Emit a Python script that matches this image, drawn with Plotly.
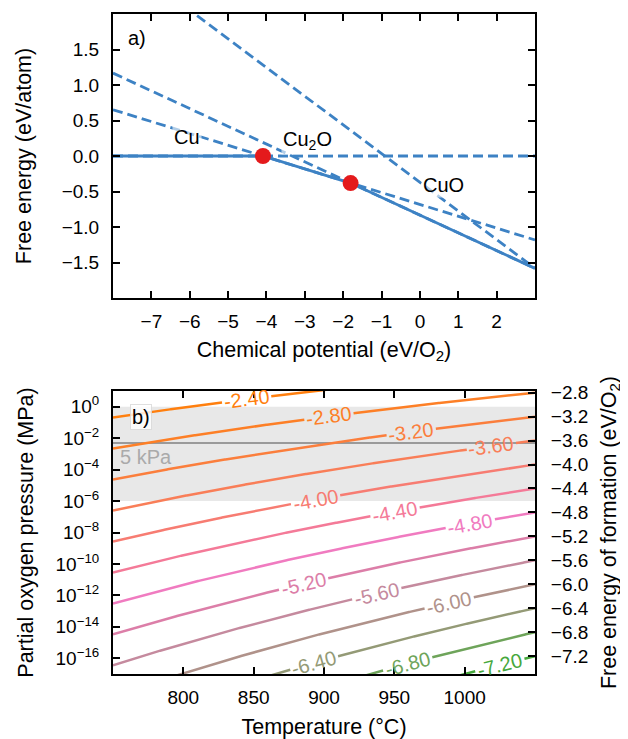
import math
import numpy as np
import plotly.graph_objects as go

FONT = "Liberation Sans, Arial, Helvetica, sans-serif"
BLUE = "#3d82c4"
RED = "#e41a1c"

# ---------------- panel a) : free energy vs chemical potential ----------------
mu_limits = [-8.0, 3.0]
G_limits = [-2.0, 2.0]
phase_names = ["Cu", "Cu2O", "CuO", "Cu2O3"]
phase_slopes = [0.0, -0.1667, -0.25, -0.404]        # eV/atom per eV/O2
phase_G_at_mu0 = [0.0, -0.682, -0.8325, -0.37]     # eV/atom at mu = 0
stable_phases = [0, 1, 2]
label_texts = ["Cu", "Cu<sub>2</sub>O", "CuO"]
label_mu = [-6.06, -2.93, 0.62]
label_G = [0.265, 0.22, -0.41]
a_xticks = [-7, -6, -5, -4, -3, -2, -1, 0, 1, 2]
a_yticks = [-1.5, -1.0, -0.5, 0.0, 0.5, 1.0, 1.5]

# ---------------- panel b) : oxygen partial pressure map ----------------
T_limits = [750, 1050]                 # deg C
logp_limits = [-17, 1]                 # log10(p / MPa)
contour_levels = [-7.2, -6.8, -6.4, -6.0, -5.6, -5.2, -4.8, -4.4, -4.0, -3.6, -3.2, -2.8, -2.4]
contour_colors = ["#46a83c", "#6ea45a", "#949a76", "#b0928a", "#c58a9e", "#dc7ea8",
                  "#f07bc0", "#f47a98", "#f77c72", "#f97e58", "#fb7e3c", "#fd7f26", "#ff7f0e"]
contour_label_T = [1025, 959.5, 893, 989, 937.5, 885.5, 1004, 950.5, 894, 1019, 962, 903.5, 845]
dH_O2 = 0.383          # eV/O2  (G0 = dH + dS*T)
dS_O2 = -0.002583      # eV/(O2 K)
band_p = [1e-6, 1.0]   # MPa
marker_p = 0.005       # MPa (5 kPa)
b_xticks = [800, 850, 900, 950, 1000]
b_yticks_exp = [-16, -14, -12, -10, -8, -6, -4, -2, 0]
right_ticks = [-2.8, -3.2, -3.6, -4.0, -4.4, -4.8, -5.2, -5.6, -6.0, -6.4, -6.8, -7.2]
T_right_ref = 1050

KB = 8.617333e-5
LN10 = math.log(10)


def G_form(TC, logp):
    TK = np.asarray(TC) + 273.15
    return dH_O2 + dS_O2 * TK + KB * TK * LN10 * logp


def logp_of(level, TC):
    TK = np.asarray(TC) + 273.15
    return (level - dH_O2 - dS_O2 * TK) / (KB * TK * LN10)


def minus(s):
    return s.replace("-", "\u2212")


# ---------------- layout geometry (page has an 8 px body margin) ----------------
OFF = 8
W, H = 628 - OFF, 739 - OFF
BOX_L, BOX_R = 113 - OFF, 535 - OFF
A_TOP, A_BOT = 14 - OFF, 298 - OFF
B_TOP, B_BOT = 391 - OFF, 674 - OFF
ML, MR, MT, MB = BOX_L, W - BOX_R, A_TOP, H - B_BOT
plot_w = W - ML - MR
plot_h = H - MT - MB
top_dom = [1 - (A_BOT - MT) / plot_h, 1.0]
bot_dom = [0.0, 1 - (B_TOP - MT) / plot_h]

fig = go.Figure()

# ---- panel a traces ----
mu_arr = np.array(mu_limits)
for i in range(len(phase_names)):
    fig.add_trace(go.Scatter(
        x=mu_arr, y=phase_slopes[i] * mu_arr + phase_G_at_mu0[i],
        mode="lines", line=dict(color=BLUE, width=2.8, dash="10px,5px"),
        hoverinfo="skip", xaxis="x", yaxis="y"))

bps = []
for a, b in zip(stable_phases[:-1], stable_phases[1:]):
    bps.append((phase_G_at_mu0[b] - phase_G_at_mu0[a]) / (phase_slopes[a] - phase_slopes[b]))
env_mu = np.array([mu_limits[0]] + bps + [mu_limits[1]])
env_G = np.min([phase_slopes[i] * env_mu + phase_G_at_mu0[i] for i in stable_phases], axis=0)
fig.add_trace(go.Scatter(x=env_mu, y=env_G, mode="lines",
                         line=dict(color=BLUE, width=2.8), hoverinfo="skip",
                         xaxis="x", yaxis="y"))
bp_arr = np.array(bps)
bp_G = np.min([phase_slopes[i] * bp_arr + phase_G_at_mu0[i] for i in stable_phases], axis=0)
fig.add_trace(go.Scatter(x=bp_arr, y=bp_G, mode="markers",
                         marker=dict(color=RED, size=16), hoverinfo="skip",
                         xaxis="x", yaxis="y"))

# ---- panel b traces: iso-lines of the formation free energy, broken at their labels ----
px_per_K = plot_w / (T_limits[1] - T_limits[0])
px_per_dec = (bot_dom[1] - bot_dom[0]) * plot_h / (logp_limits[1] - logp_limits[0])
LABEL_SIZE = 20
T_line = np.linspace(T_limits[0], T_limits[1], 601)
label_info = []
for lv, col, TC in zip(contour_levels, contour_colors, contour_label_T):
    L = logp_of(lv, T_line)
    Lc = float(logp_of(lv, TC))
    text = f"{lv:.2f}"
    half_gap = 0.5 * 0.456 * len(text) * LABEL_SIZE + 2
    d = np.hypot((T_line - TC) * px_per_K, (L - Lc) * px_per_dec)
    y = np.where(d < half_gap, np.nan, L)
    fig.add_trace(go.Scatter(x=T_line, y=y, mode="lines", connectgaps=False,
                             line=dict(color=col, width=2.5), hoverinfo="skip",
                             xaxis="x2", yaxis="y2"))
    TK = TC + 273.15
    dLdT = -(lv - dH_O2) / (KB * LN10 * TK ** 2)
    ang = -math.degrees(math.atan(dLdT * px_per_dec / px_per_K))
    label_info.append((text, TC, Lc, ang, col))

# right-hand axis (free energy at the reference temperature)
right_range = [float(G_form(T_right_ref, logp_limits[0])), float(G_form(T_right_ref, logp_limits[1]))]
fig.add_trace(go.Scatter(x=[T_right_ref] * len(right_ticks), y=right_ticks, mode="markers",
                         marker=dict(opacity=0), hoverinfo="skip", xaxis="x2", yaxis="y3"))

# ---------------- axes ----------------
tick_font = dict(family=FONT, size=19, color="black")
title_font = dict(family=FONT, size=21.5, color="black")
common = dict(ticks="inside", ticklen=7, tickwidth=1.5, tickcolor="black",
              showline=True, linewidth=2, linecolor="black", showgrid=False,
              zeroline=False, tickfont=tick_font, automargin=False)

fig.update_layout(
    width=W, height=H, margin=dict(l=ML, r=MR, t=MT, b=MB),
    plot_bgcolor="white", paper_bgcolor="white", showlegend=False,
    font=dict(family=FONT, size=19, color="black"),
    xaxis=dict(domain=[0, 1], anchor="y", range=mu_limits, tickvals=a_xticks,
               ticktext=[minus(str(v)) for v in a_xticks], mirror="ticks",
               ticklabelstandoff=5,
               title=dict(text="Chemical potential (eV/O<sub>2</sub>)", font=title_font, standoff=11),
               **common),
    yaxis=dict(domain=top_dom, anchor="x", range=G_limits, tickvals=a_yticks,
               ticktext=[minus(f"{v:.1f}") for v in a_yticks], mirror="ticks",
               ticklabelstandoff=8,
               title=dict(text="Free energy (eV/atom)", font=title_font, standoff=24),
               **common),
    xaxis2=dict(domain=[0, 1], anchor="y2", range=T_limits, tickvals=b_xticks,
                ticktext=[str(v) for v in b_xticks], mirror="ticks",
                ticklabelstandoff=5,
                title=dict(text="Temperature (°C)", font=title_font, standoff=12),
                **common),
    yaxis2=dict(domain=bot_dom, anchor="x2", range=logp_limits, tickvals=b_yticks_exp,
                ticktext=[minus(f"10<sup>{e}</sup>") for e in b_yticks_exp], mirror=True,
                ticklabelstandoff=8,
                title=dict(text="Partial oxygen pressure (MPa)", font=title_font, standoff=16),
                **common),
    yaxis3=dict(overlaying="y2", side="right", anchor="x2", range=right_range,
                tickvals=right_ticks, ticktext=[minus(f"{v:.1f}") for v in right_ticks],
                ticklabelstandoff=10,
                title=dict(text="Free energy of formation (eV/O<sub>2</sub>)", font=title_font, standoff=13),
                **common),
)

# ---------------- shapes ----------------
fig.add_shape(type="rect", xref="x2 domain", yref="y2", x0=0, x1=1,
              y0=math.log10(band_p[0]), y1=math.log10(band_p[1]),
              fillcolor="#e8e8e8", line=dict(width=0), layer="below")
fig.add_shape(type="line", xref="x2 domain", yref="y2", x0=0, x1=1,
              y0=math.log10(marker_p), y1=math.log10(marker_p),
              line=dict(color="#9a9a9a", width=2), layer="below")

# ---------------- annotations ----------------
ann = []
for t, m, g in zip(label_texts, label_mu, label_G):
    ann.append(dict(text=t, x=m, y=g, xref="x", yref="y", showarrow=False,
                    xanchor="center", yanchor="middle",
                    font=dict(family=FONT, size=20, color="black"),
                    bgcolor="rgba(255,255,255,0.6)", borderpad=1))
top_h = (top_dom[1] - top_dom[0]) * plot_h
bot_h = (bot_dom[1] - bot_dom[0]) * plot_h
ann.append(dict(text="a)", x=(137 - OFF - BOX_L) / plot_w, y=1 - (38 - OFF - A_TOP) / top_h,
                xref="x domain", yref="y domain", showarrow=False,
                xanchor="center", yanchor="middle",
                font=dict(family=FONT, size=20, color="black")))
ann.append(dict(text="b)", x=(140.5 - OFF - BOX_L) / plot_w, y=1 - (416.7 - OFF - B_TOP) / bot_h,
                xref="x2 domain", yref="y2 domain", showarrow=False,
                xanchor="center", yanchor="middle",
                font=dict(family=FONT, size=20, color="black"),
                bgcolor="rgba(255,255,255,0.8)", bordercolor="rgba(215,215,215,0.8)",
                borderwidth=1, borderpad=1))
ann.append(dict(text="5 kPa", x=T_limits[0] + 3.5, y=math.log10(marker_p), xref="x2", yref="y2",
                xanchor="left", yanchor="top", yshift=-1, showarrow=False,
                font=dict(family=FONT, size=20, color="#aaaaaa")))
for text, TC, Lc, ang, col in label_info:
    ann.append(dict(text=text, x=TC, y=Lc, xref="x2", yref="y2", showarrow=False,
                    xanchor="center", yanchor="middle",
                    textangle=ang, font=dict(family=FONT, size=LABEL_SIZE, color=col),
                    borderpad=0))
fig.update_layout(annotations=ann)

fig.write_html("out.html")
